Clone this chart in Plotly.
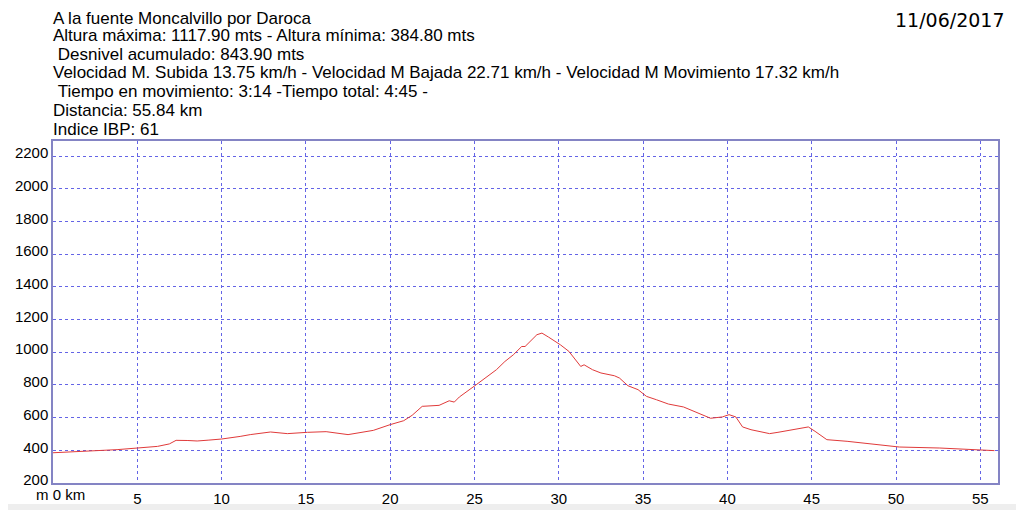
import plotly.graph_objects as go

# ---- data ----
km = [0, 1.0, 1.8, 2.8, 3.8, 5.0, 6.2, 6.9, 7.3, 8.0, 8.55, 9.2, 10.0, 11.1, 11.7,
      12.9, 13.9, 15.1, 16.2, 17.5, 19.0, 20.0, 20.8, 21.3, 21.9, 22.9, 23.5, 23.8,
      24.1, 25.1, 26.3, 26.8, 27.3, 27.8, 28.0, 28.7, 29.0, 29.4, 30.1, 30.6, 31.3,
      31.5, 32.0, 32.5, 33.3, 33.6, 34.1, 34.7, 35.2, 35.8, 36.5, 37.4, 38.2, 39.0,
      39.7, 40.1, 40.5, 40.9, 41.4, 42.5, 43.0, 43.9, 44.8, 45.2, 45.9, 47.1, 47.9,
      48.7, 50.2, 52.6, 55.0, 55.84]
elev = [385, 389, 393, 398, 404, 414, 424, 439, 461, 460, 457, 462, 469, 485, 496,
        512, 502, 510, 514, 496, 522, 557, 581, 614, 669, 675, 703, 695,
        726, 801, 893, 943, 984, 1035, 1035, 1107, 1117, 1092, 1045, 1005, 913,
        923, 893, 873, 856, 842, 795, 771, 730, 709, 683, 665, 628, 596,
        604, 618, 604, 543, 526, 502, 510, 526, 543, 516, 465, 455, 445,
        435, 420, 414, 400, 398]

x_ticks = [5, 10, 15, 20, 25, 30, 35, 40, 45, 50, 55]
y_ticks = [200, 400, 600, 800, 1000, 1200, 1400, 1600, 1800, 2000, 2200]

title_lines = [
    "A la fuente Moncalvillo por Daroca",
    "Altura máxima: 1117.90 mts - Altura mínima: 384.80 mts",
    " Desnivel acumulado: 843.90 mts",
    "Velocidad M. Subida 13.75 km/h - Velocidad M Bajada 22.71 km/h - Velocidad M Movimiento 17.32 km/h",
    " Tiempo en movimiento: 3:14 -Tiempo total: 4:45 -",
    "Distancia: 55.84 km",
    "Indice IBP: 61",
]
date_text = "11/06/2017"
x_origin_label = "m 0 km"

# ---- layout geometry (target pixels; page has an 8px body margin) ----
OFF = 8
W, H = 1024 - OFF, 510 - OFF
L, R, T, B = 53 - OFF, 998 - OFF, 141 - OFF, 483 - OFF


def px(x):
    return (x - OFF - L) / (R - L)


def py(y):
    return (B - (y - OFF)) / (B - T)


GRID = "#6464e6"
BORDER = "#8484c4"
FONT = "Liberation Sans, Arial, sans-serif"

fig = go.Figure()
fig.add_trace(go.Scatter(x=km, y=elev, mode="lines",
                         line=dict(color="#e03a3a", width=1),
                         hoverinfo="skip", showlegend=False))

annotations = []
line_y = [18, 36, 54, 72.5, 91.5, 110.5, 130]
for txt, yy in zip(title_lines, line_y):
    annotations.append(dict(text=txt.replace(" ", "&nbsp;", 1) if txt.startswith(" ") else txt,
                            x=px(52), y=py(yy), xref="paper", yref="paper",
                            xanchor="left", yanchor="middle", showarrow=False, borderpad=0,
                            font=dict(family=FONT, size=17, color="#000")))
annotations.append(dict(text=date_text, x=px(1006), y=py(20), xref="paper", yref="paper",
                        xanchor="right", yanchor="middle", showarrow=False, borderpad=0,
                        font=dict(family="DejaVu Sans, Verdana, sans-serif", size=19, color="#000")))
annotations.append(dict(text=x_origin_label, x=px(60), y=py(494), xref="paper", yref="paper",
                        xanchor="center", yanchor="middle", showarrow=False,
                        font=dict(family=FONT, size=15, color="#000")))

shapes = [
    dict(type="rect", xref="paper", yref="paper", x0=px(OFF), x1=px(1024), y0=py(504), y1=py(510),
         line=dict(width=0), fillcolor="#eeeeee", layer="below"),
]

fig.update_layout(
    width=W, height=H, autosize=False,
    margin=dict(l=L, r=W - R, t=T, b=H - B, pad=0),
    paper_bgcolor="white", plot_bgcolor="white",
    font=dict(family=FONT, size=15, color="#000"),
    annotations=annotations, shapes=shapes,
    xaxis=dict(range=[0, 56.05], tickvals=x_ticks, ticktext=[str(v) for v in x_ticks],
               showgrid=True, gridcolor=GRID, griddash="dot", gridwidth=1,
               showline=True, linecolor=BORDER, linewidth=1.5, mirror=True,
               zeroline=False, ticks="", tickfont=dict(size=15), ticklabelstandoff=1,
               automargin=False),
    yaxis=dict(range=[200, 2292], tickvals=y_ticks, ticktext=[str(v) for v in y_ticks],
               showgrid=True, gridcolor=GRID, griddash="dot", gridwidth=1,
               showline=True, linecolor=BORDER, linewidth=1.5, mirror=True,
               zeroline=False, ticks="", tickfont=dict(size=15), ticklabelshift=-3,
               ticklabelstandoff=0, automargin=False),
)

fig.write_html("out.html")
